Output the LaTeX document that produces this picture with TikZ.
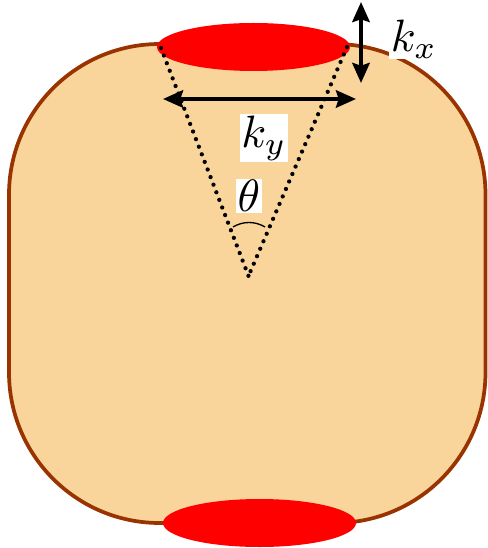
\documentclass[tikz,border=0pt]{standalone}
\usetikzlibrary{shapes.geometric,arrows.meta}
\definecolor{skin}{HTML}{F9D59C}
\definecolor{rim}{HTML}{993300}
\begin{document}
\begin{tikzpicture}[x=0.75pt,y=-0.75pt,
  patch/.style={ellipse,fill=red,draw=none,minimum width=144.75pt,minimum height=36pt,inner sep=0},
  lbl/.style={fill=white,inner sep=0.3pt,scale=3.4},
  dotline/.style={line width=3.2pt,dash pattern=on 0pt off 6.1pt,line cap=round},
  dbl/.style={line width=3pt,{Stealth[length=15pt,width=13pt,inset=2pt]}-{Stealth[length=15pt,width=13pt,inset=2pt]}}]
\useasboundingbox (0,0) rectangle (487,548);
\draw[fill=skin,draw=rim,line width=2.8pt,rounded corners=113pt] (9,44) rectangle (485.5,523);
\node[patch] (top) at (253.5,47) {};
\node[patch] (bot) at (259.5,523) {};
\coordinate (apex) at (248.5,276);
\coordinate (tl) at (161,48);
\coordinate (tr) at (347,47);
\draw[dotline] (tl) -- (apex);
\draw[dotline] (tr) -- (apex);
\coordinate (hl) at (163,99);
\coordinate (hr) at (356,99);
\draw[dbl] (hl) -- (hr);
\coordinate (vt) at (361,2);
\coordinate (vb) at (361,83);
\draw[dbl] (vt) -- (vb);
\node[lbl] (kx) at (414,39) {$k_x$};
\node[lbl] (ky) at (264,138) {$k_y$};
\node[lbl] (th) at (249,196) {$\theta$};
\coordinate (a1) at (233,227);
\coordinate (a2) at (265,227);
\draw[line width=1pt] (a1) .. controls (243,221) and (255,221) .. (a2);
\end{tikzpicture}
\end{document}
